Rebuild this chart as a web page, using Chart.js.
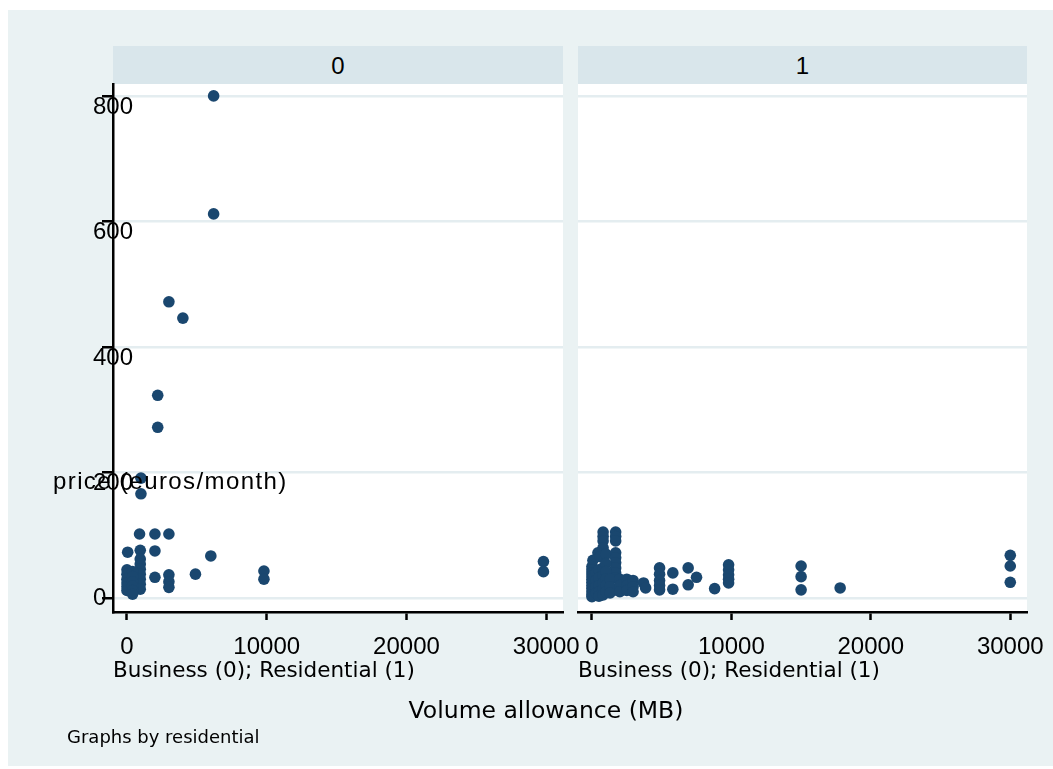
<!DOCTYPE html>
<html>
<head>
<meta charset="utf-8">
<script src="https://cdn.jsdelivr.net/npm/chart.js@4"></script>
<style>
  body { margin: 0; background: #ffffff; overflow: hidden; }
  #graph { position: absolute; left: 8px; top: 10px; width: 1045px; height: 756px; background: #eaf2f3; }
  .plot { position: absolute; top: 84px; height: 528px; background: #ffffff; }
  .strip { position: absolute; top: 46px; height: 38px; background: #d9e6eb;
           font: 24px "Liberation Sans", sans-serif; text-align: center; line-height: 40px; color: #000; }
  canvas { position: absolute; left: 0; top: 0; }
  .txt { position: absolute; color: #000; white-space: nowrap; line-height: 1; }
</style>
</head>
<body>
<div id="graph"></div>
<div class="plot" style="left:113px;width:450px"></div>
<div class="plot" style="left:578px;width:449px"></div>
<div class="strip" id="strip0" style="left:113px;width:450px"></div>
<div class="strip" id="strip1" style="left:578px;width:449px"></div>
<canvas id="panel0" width="1053" height="769"></canvas>
<canvas id="panel1" width="1120" height="769"></canvas>
<div class="txt" style="left:53px;top:467px;font:24px 'Liberation Sans',sans-serif;letter-spacing:1.4px">price (euros/month)</div>
<div class="txt" style="left:546px;top:696px;transform:translateX(-50%);font:23.5px 'DejaVu Sans',sans-serif">Volume allowance (MB)</div>
<div class="txt" style="left:67px;top:726px;font:18px 'DejaVu Sans',sans-serif">Graphs by residential</div>
<script>
// facet labels (residential = 0 / 1)
const panelLabels = ["0", "1"];
const xTicks = [0, 10000, 20000, 30000];
const yTicks = [0, 200, 400, 600, 800];

// business plans (residential = 0): volume allowance MB, price euros/month
const businessVolume = [6200, 6200, 3000, 4000, 2200, 2200, 1000, 1000,
  900, 2000, 3000, 50, 950, 2000,
  950, 950, 950, 950, 950, 950, 950,
  0, 0, 0, 0, 0, 0,
  400, 400, 400, 400, 400, 400,
  2000, 3000, 3000, 3000, 4900, 6000, 9800, 9800, 29800, 29800];
const businessPrice = [800, 612, 472, 446, 323, 272, 191, 166,
  102, 102, 102, 73, 76, 75,
  62, 54, 46, 38, 30, 22, 14,
  45, 38, 30, 24, 18, 12,
  42, 34, 26, 19, 12, 6,
  33, 37, 26, 17, 38, 67, 43, 30, 58, 42];

// residential plans (residential = 1)
const residentialVolume = [800, 800, 800, 1700, 1700, 1700,
  800, 430, 70, 600, 1000, 1700, 1700, 1700,
  1700, 1700, 1700, 1700,
  0, 0, 0, 0, 0, 0, 0, 0, 0, 0, 0,
  300, 300, 300, 300,
  500, 500, 500, 500, 500,
  800, 800, 800, 800, 800,
  1000, 1000, 1000, 1000, 1000,
  1300, 1300, 1300,
  2000, 2000, 2000,
  2500, 2500, 2500,
  2950, 2950, 2950, 3700, 3850,
  4850, 4850, 4850, 4850, 4850,
  5800, 5800, 6900, 7500, 6900, 8800,
  9800, 9800, 9800, 9800, 9800,
  15000, 15000, 15000, 17800,
  30000, 30000, 30000];
const residentialPrice = [105, 98, 91, 105, 98, 91,
  80, 72, 60, 66, 70, 72, 64, 56,
  48, 40, 32, 13,
  50, 45, 40, 35, 30, 25, 20, 15, 10, 5, 2,
  40, 28, 18, 8,
  45, 32, 20, 10, 3,
  48, 36, 24, 14, 5,
  55, 42, 30, 20, 10,
  30, 18, 8,
  30, 20, 10,
  30, 20, 12,
  28, 18, 10, 24, 16,
  48, 38, 28, 20, 13,
  40, 14, 48, 33, 21, 15,
  53, 45, 37, 30, 24,
  51, 34, 13, 16,
  68, 51, 25];

const navy = "#1a476f";
const gridCol = "#e4edf0";
const tickFont = { family: "Liberation Sans", size: 24 };
const yMin = -22.3, yMax = 819;

document.getElementById("strip0").textContent = panelLabels[0];
document.getElementById("strip1").textContent = panelLabels[1];

function makePanel(id, xs, ys, showY, pad) {
  const points = xs.map((x, i) => ({ x: x, y: ys[i] }));
  const scales = {
    x: {
      type: "linear",
      min: -1000,
      max: 31200,
      afterBuildTicks: (s) => { s.ticks = xTicks.map((v) => ({ value: v })); },
      afterFit: (s) => { s.height = 80; },
      ticks: { font: tickFont, color: "#000", padding: 13, maxRotation: 0, autoSkip: false,
               callback: (v) => String(v) },
      grid: { drawOnChartArea: false, drawTicks: true, tickLength: 8, tickWidth: 2.5, tickColor: "#000" },
      border: { display: true, color: "#000", width: 2.5 },
      title: {
        display: true,
        text: "Business (0); Residential (1)",
        align: "start",
        color: "#000",
        font: { family: "DejaVu Sans", size: 21.5 },
        padding: { top: 0, bottom: 8 }
      }
    },
    y: {
      type: "linear",
      position: "left",
      weight: 0,
      min: yMin,
      max: yMax,
      afterBuildTicks: (s) => { s.ticks = yTicks.map((v) => ({ value: v })); },
      afterFit: (s) => { s.width = showY ? 20 : 0; },
      // the zero label sits level with its tick, the others hang a little below
      ticks: { display: showY, font: tickFont, color: "#000", mirror: true, padding: -20, labelOffset: 11,
               callback: (v) => (v === 0 ? "" : String(v)) },
      grid: { color: gridCol, lineWidth: 2.5, drawTicks: showY, tickLength: 11, tickWidth: 2.5, tickColor: "#000" },
      border: { display: showY, color: "#000", width: 2.5 }
    }
  };
  if (showY) {
    scales.y0 = {
      type: "linear",
      position: "left",
      weight: 1,
      min: yMin,
      max: yMax,
      afterBuildTicks: (s) => { s.ticks = [{ value: yTicks[0] }]; },
      afterFit: (s) => { s.width = 0; },
      ticks: { font: tickFont, color: "#000", mirror: true, padding: 0, callback: (v) => String(v) },
      grid: { display: false },
      border: { display: false }
    };
  }
  return new Chart(document.getElementById(id), {
    type: "scatter",
    data: {
      datasets: [{
        data: points,
        xAxisID: "x",
        yAxisID: "y",
        pointRadius: 5.8,
        pointBackgroundColor: navy,
        pointBorderWidth: 0,
        pointHoverRadius: 5.8
      }]
    },
    options: {
      responsive: false,
      animation: false,
      devicePixelRatio: 1,
      layout: { padding: pad },
      plugins: { legend: { display: false }, tooltip: { enabled: false } },
      scales: scales
    }
  });
}

makePanel("panel0", businessVolume, businessPrice, true, { left: 93, right: 490, top: 84, bottom: 77 });
makePanel("panel1", residentialVolume, residentialPrice, false, { left: 578, right: 93, top: 84, bottom: 77 });
</script>
</body>
</html>
